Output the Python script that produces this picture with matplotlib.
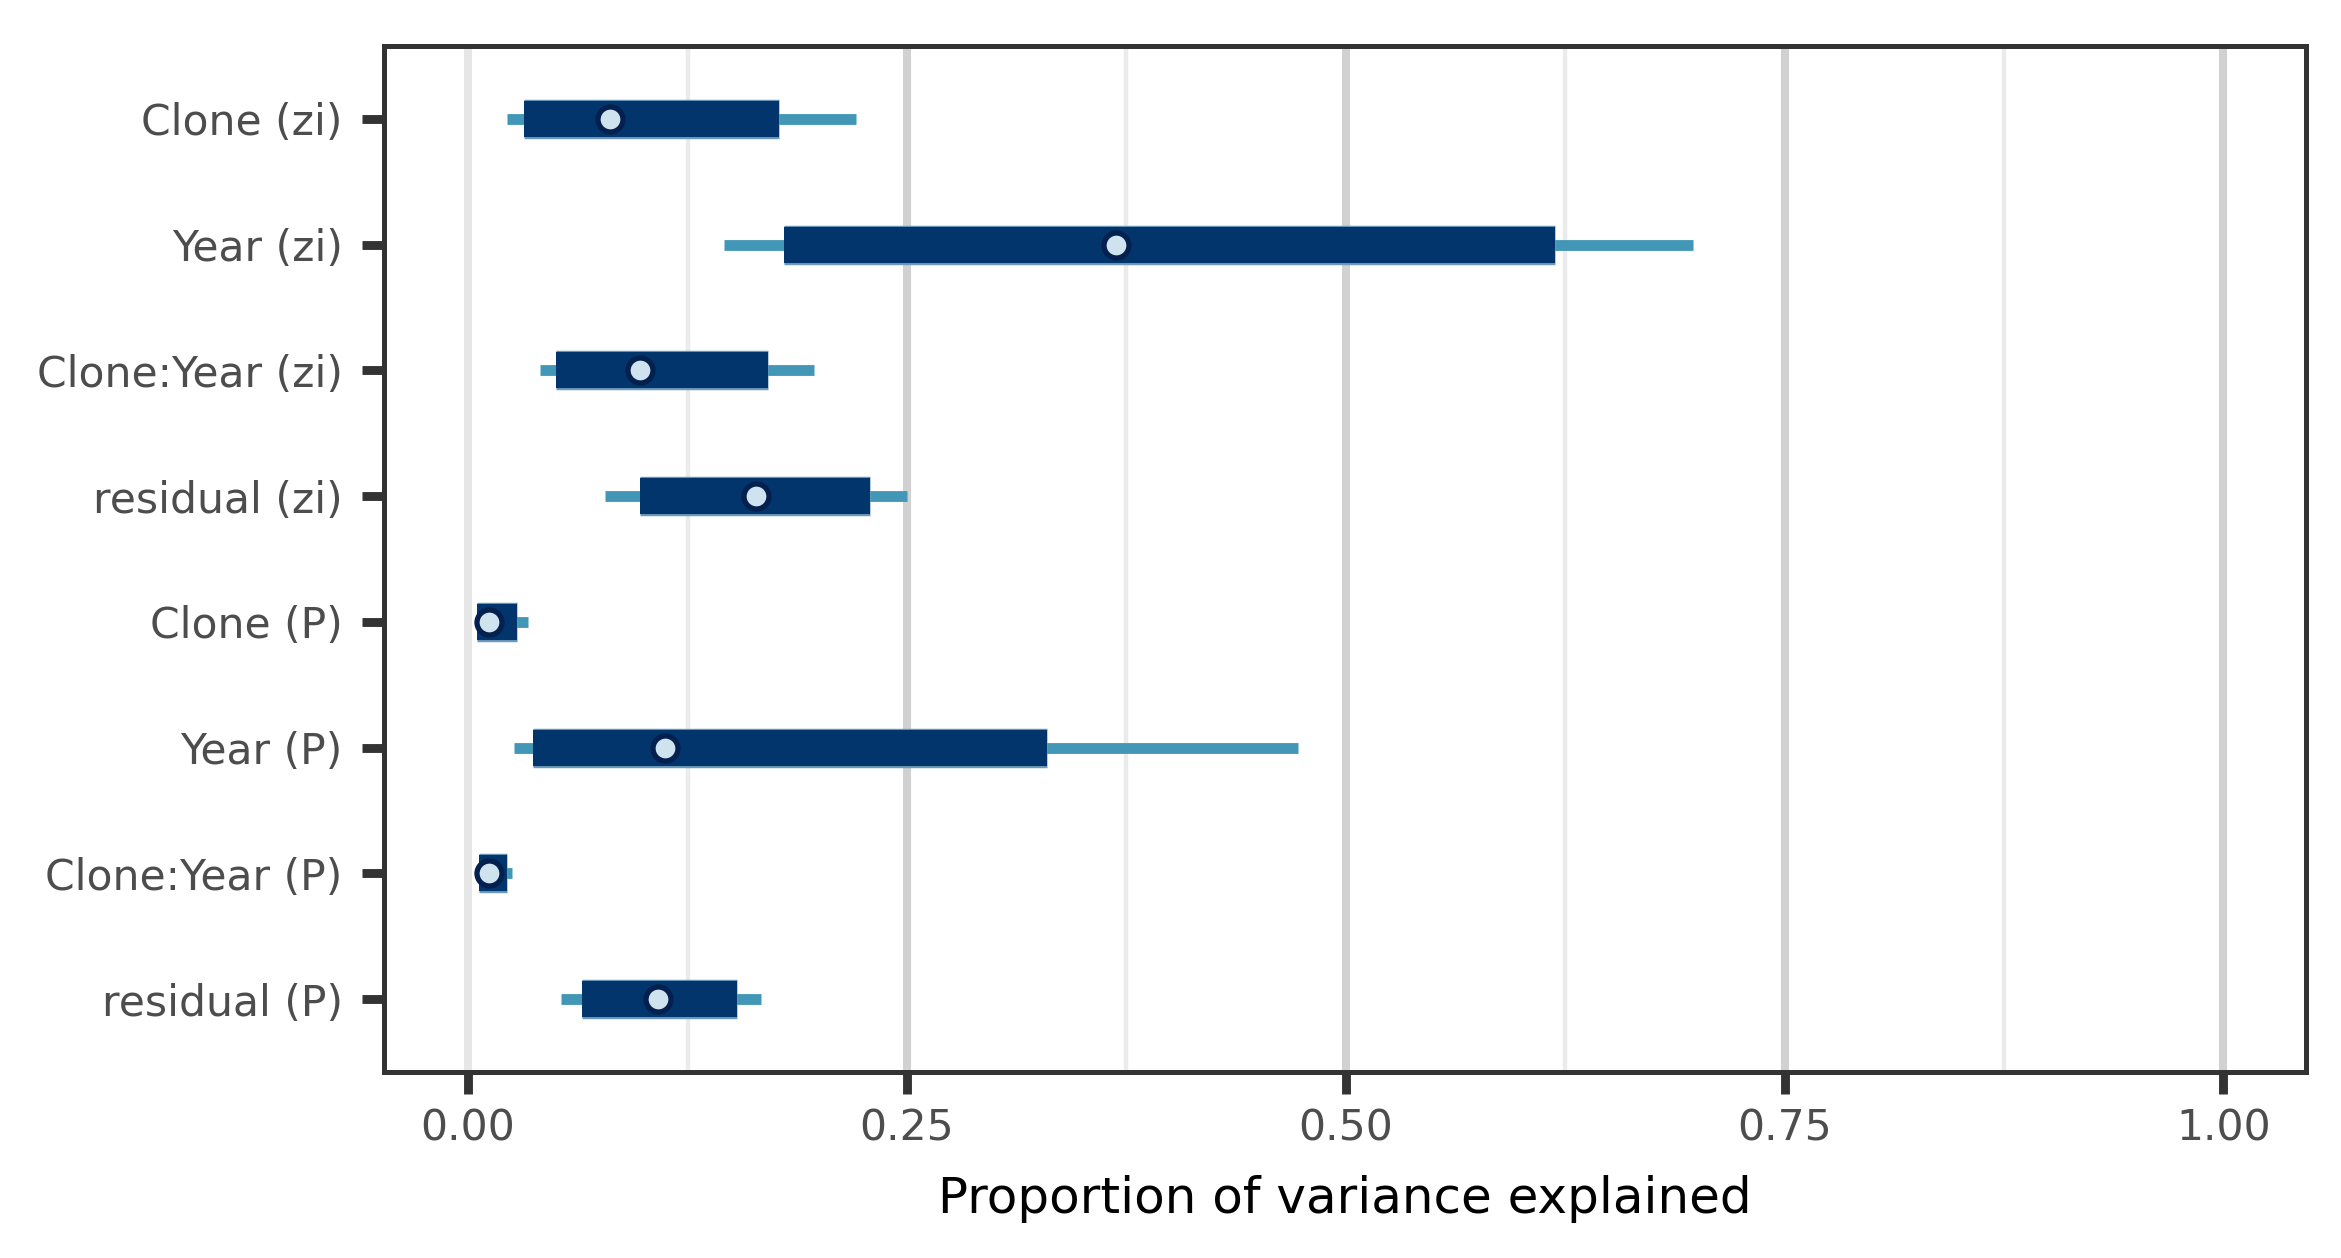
import matplotlib.pyplot as plt
import numpy as np

# Componentes de variância (ordem de cima para baixo)
termos = ["Clone (zi)", "Year (zi)", "Clone:Year (zi)", "residual (zi)",
          "Clone (P)", "Year (P)", "Clone:Year (P)", "residual (P)"]

# Mediana e intervalos
mediana = [0.081, 0.369, 0.098, 0.164, 0.012, 0.112, 0.012, 0.108]
int_fino_inf = [0.022, 0.146, 0.041, 0.078, 0.005, 0.026, 0.005, 0.053]
int_fino_sup = [0.221, 0.698, 0.197, 0.250, 0.034, 0.473, 0.025, 0.167]
int_grosso_inf = [0.032, 0.180, 0.050, 0.098, 0.005, 0.037, 0.006, 0.065]
int_grosso_sup = [0.177, 0.619, 0.171, 0.229, 0.028, 0.330, 0.022, 0.153]

COR_FINO = '#4397b6'
COR_GROSSO = '#02356b'
COR_BORDA = '#6d99bb'

fig = plt.figure(figsize=(11.705, 6.29), dpi=200)
ax = fig.add_axes([0.164, 0.1479, 0.821, 0.8156])

y = np.arange(len(termos))

# intervalos
ax.hlines(y, int_fino_inf, int_fino_sup, color=COR_FINO, linewidth=3.9,
          capstyle='butt', zorder=2)
ax.hlines(y, int_grosso_inf, int_grosso_sup, color=COR_BORDA, linewidth=14.2,
          capstyle='butt', zorder=3)
ax.hlines(y, int_grosso_inf, int_grosso_sup, color=COR_GROSSO, linewidth=13.0,
          capstyle='butt', zorder=4)
ax.plot(mediana, y, 'o', ms=9.0, mfc='#cfe3ef', mec='#03204f', mew=1.9,
        zorder=5, linestyle='none')

# eixos
ax.set_yticks(y)
ax.set_yticklabels(termos)
ax.set_ylim(len(termos) - 1 + 0.58, -0.58)
ax.set_xlim(-0.048, 1.047)
ax.set_xticks([0, 0.25, 0.5, 0.75, 1.0])
ax.set_xticklabels(["0.00", "0.25", "0.50", "0.75", "1.00"])
ax.set_xticks([0.125, 0.375, 0.625, 0.875], minor=True)

ax.grid(axis='x', which='major', color='#d1d1d1', linewidth=2.9, zorder=0)
ax.grid(axis='x', which='minor', color='#ebebeb', linewidth=1.6, zorder=0)
ax.xaxis.get_gridlines()[0].set_color('#e6e6e6')
ax.set_axisbelow(True)

ax.tick_params(axis='both', which='major', length=7.9, width=3.2,
               color='#333333', labelsize=15.3, labelcolor='#4d4d4d')
ax.tick_params(axis='y', pad=7)
ax.tick_params(axis='x', pad=5)
ax.tick_params(which='minor', length=0)

for lado in ax.spines.values():
    lado.set_color('#333333')
    lado.set_linewidth(1.8)

ax.set_xlabel("Proportion of variance explained", fontsize=18, color='black',
              labelpad=9)

fig.savefig('out.png', dpi=200)
